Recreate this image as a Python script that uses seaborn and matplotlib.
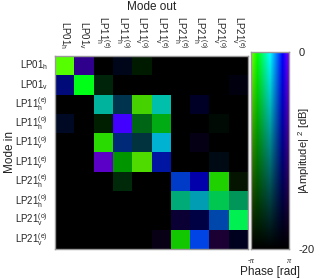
import numpy as np
import matplotlib
matplotlib.use('Agg')
import matplotlib.pyplot as plt
import seaborn as sns
from matplotlib.colors import hsv_to_rgb

modes = [r'LP01$_{\rm h}$', r'LP01$_{\rm v}$',
         r'LP11$^{\rm (e)}_{\rm h}$', r'LP11$^{\rm (o)}_{\rm h}$',
         r'LP11$^{\rm (o)}_{\rm v}$', r'LP11$^{\rm (e)}_{\rm v}$',
         r'LP21$^{\rm (e)}_{\rm h}$', r'LP21$^{\rm (o)}_{\rm h}$',
         r'LP21$^{\rm (o)}_{\rm v}$', r'LP21$^{\rm (e)}_{\rm v}$']

# |amplitude|^2 in dB (rows = mode in, cols = mode out)
power_db = [
    [0.0, -9.0, -30, -18.0, -18.0, -30, -30, -30, -30, -30],
    [-10.6, 0.0, -17.2, -30, -30, -30, -30, -30, -30, -18.8],
    [-30, -30, -6.0, -14.0, -3.6, -5.0, -30, -17.0, -30, -30],
    [-17.2, -30, -17.6, 0.0, -12.0, -6.6, -30, -30, -19.2, -30],
    [-30, -30, -2.8, -10.6, -15.2, -3.6, -30, -18.4, -30, -30],
    [-30, -30, -4.4, -8.2, -2.8, -7.4, -30, -30, -18.4, -30],
    [-30, -30, -30, -16.8, -30, -30, -4.4, -6.6, -3.6, -18.4],
    [-30, -30, -30, -30, -30, -30, -6.6, -6.0, -4.4, -8.2],
    [-30, -30, -30, -30, -30, -30, -16.0, -14.6, -6.6, -1.2],
    [-30, -30, -30, -30, -30, -18.4, -4.4, -2.0, -16.0, -17.6],
]

# phase in units of pi
phase_pi = [
    [-0.89, 0.89, 0, 0.50, -0.67, 0, 0, 0, 0, 0],
    [0.61, -0.61, -0.50, 0, 0, 0, 0, 0, 0, 0.67],
    [0, 0, -0.08, 0.22, -0.89, -0.07, 0, 0.67, 0, 0],
    [0.50, 0, -0.67, 0.84, -0.53, -0.59, 0, 0, -0.33, 0],
    [0, 0, -0.79, 0.44, 0.11, 0.10, 0, 0.83, 0, 0],
    [0, 0, 0.97, -0.67, -0.91, 0.58, 0, 0, 0.33, 0],
    [0, 0, 0, -0.50, 0, 0, 0.47, 0.67, -0.77, -0.83],
    [0, 0, 0, 0, 0, 0, -0.20, 0.08, -0.40, -0.27],
    [0, 0, 0, 0, 0, 0, 0.80, 0.67, 0.39, -0.44],
    [0, 0, 0, 0, 0, 0.94, -0.73, 0.47, 1.00, 0.67],
]

db_min, db_max = -20, 0


def phase_amp_rgb(db, phase):
    v = np.clip((np.asarray(db, float) - db_min) / (db_max - db_min), 0, 1)
    h = (180 + np.asarray(phase, float) / np.pi * 90) / 360
    hsv = np.stack([h, np.ones_like(v), v], axis=-1)
    return hsv_to_rgb(hsv)


sns.set_style('white')
plt.rcParams['font.family'] = ['Liberation Sans', 'DejaVu Sans']
plt.rcParams['mathtext.fontset'] = 'custom'
plt.rcParams['mathtext.rm'] = 'Liberation Sans'
plt.rcParams['mathtext.it'] = 'Liberation Sans:italic'

power = np.array(power_db)
phase = np.array(phase_pi) * np.pi
rgb = phase_amp_rgb(power, phase)

fig = plt.figure(figsize=(3.16, 2.79), dpi=100)
ax = fig.add_axes([0.174, 0.1075, 0.611, 0.692])
cax = fig.add_axes([0.794, 0.1075, 0.120, 0.706])

sns.heatmap(power, ax=ax, cbar=False, xticklabels=modes, yticklabels=modes)
mesh = ax.collections[0]
mesh.set_array(None)
mesh.set_facecolor(rgb.reshape(-1, 3))

edge = '#999999'
for s in ax.spines.values():
    s.set_visible(True)
    s.set_color(edge)
    s.set_linewidth(1.0)
ax.xaxis.tick_top()
ax.xaxis.set_label_position('top')
ax.tick_params(axis='both', direction='in', length=2.5, width=0.6, color=edge,
               labelsize=7, pad=5)
ax.tick_params(axis='x', top=True, bottom=True)
ax.tick_params(axis='y', left=True, right=True)
ax.set_xticklabels(modes, rotation=-90)
ax.set_yticklabels(modes, rotation=0)
ax.set_xlabel('Mode out', fontsize=8.5, color='#222222')
ax.set_ylabel('Mode in', fontsize=8.5, color='#222222')
ax.xaxis.set_label_coords(0.5, 1.238)
ax.yaxis.set_label_coords(-0.2, 0.5)

# 2D colour key: phase (x) vs power (y)
ph_axis = np.linspace(-np.pi, np.pi, 256)
db_axis = np.linspace(db_min, db_max, 256)
P, D = np.meshgrid(ph_axis, db_axis)
cax.imshow(phase_amp_rgb(D, P), origin='lower', aspect='auto',
           extent=[-np.pi, np.pi, db_min, db_max])
for s in cax.spines.values():
    s.set_visible(True)
    s.set_color(edge)
    s.set_linewidth(1.0)
cax.yaxis.tick_right()
cax.yaxis.set_label_position('right')
cax.set_yticks([db_min, db_max])
cax.set_yticklabels(['-20', '0'])
cax.set_xticks([-np.pi, np.pi])
cax.set_xticklabels(['-π', 'π'], family='Liberation Serif', style='italic', fontsize=6)
cax.tick_params(axis='y', direction='in', length=2.5, width=0.6, color=edge,
                labelsize=8, pad=7, left=True, right=True)
cax.tick_params(axis='x', direction='in', length=0, pad=6)
cax.set_ylabel(r'|Amplitude| $^{2}$ [dB]', fontsize=8, color='#222222')
cax.yaxis.set_label_coords(1.2, 0.5)
cax.set_xlabel('Phase [rad]', fontsize=8.5, color='#222222')
cax.xaxis.set_label_coords(0.5, -0.085)

fig.savefig('out.png', dpi=100)
